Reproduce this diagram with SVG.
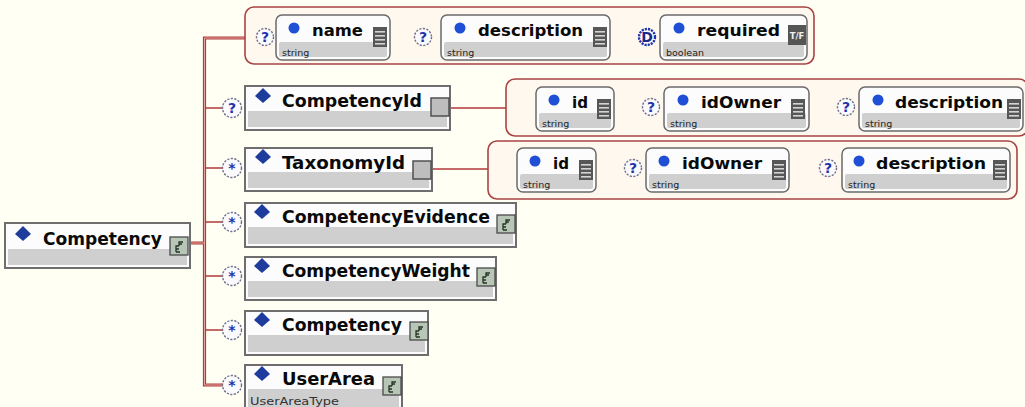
<svg xmlns="http://www.w3.org/2000/svg" xmlns:xlink="http://www.w3.org/1999/xlink" width="1025" height="407" viewBox="0 0 1025 407">
<style>
.conn{fill:none;stroke:#b23a3a;stroke-width:1.6}
.trunk{fill:none;stroke:#b23a3a;stroke-width:3.2}
.trunkin{fill:none;stroke:#e8b4ac;stroke-width:0.9}
.grp{fill:#fff8ef;stroke:#a84444;stroke-width:1.6}
.el{fill:#fcfcfc;stroke:#6e6e6e;stroke-width:2}
.band{fill:#cfcfcf}
.att{fill:#fcfcfc;stroke:#6a6a6a;stroke-width:1.5}
.ename{font-family:"DejaVu Sans",Verdana,sans-serif;font-weight:bold;font-size:17px;fill:#0a0a0a}
.aname{font-family:"DejaVu Sans",Verdana,sans-serif;font-weight:bold;font-size:16px;fill:#0a0a0a}
.type{font-family:"DejaVu Sans",sans-serif;font-size:9.5px;fill:#222}
.occ{fill:#fbfbff;stroke:#6f6f8a;stroke-width:1.4;stroke-dasharray:2.2 1.4}
.occt{font-family:"DejaVu Sans",sans-serif;font-weight:bold;font-size:14px;fill:#2233aa;text-anchor:middle}
.dia{fill:#1d3c9c}
.dot{fill:#1e4fd6}
.gsq{fill:#bdbdbd;stroke:#505050;stroke-width:1.5}
</style>
<defs>
<path id="dia" d="M0,-8 L8,0 L0,7 L-8,0 Z"/>
<g id="ctype"><rect x="0" y="0" width="18" height="18" fill="#b8c6b8" stroke="#4a4a4a" stroke-width="1.3"/><path d="M6,15 V9 H9 M6,12 H9 M6,15 H10 M9,9 V5 H13 M9,7 H12" stroke="#243424" stroke-width="1.3" fill="none"/></g>
<g id="sicon"><rect x="0" y="0" width="14" height="20" fill="#575757"/><rect x="2" y="4" width="10" height="1.6" fill="#d4d4d4"/><rect x="2" y="8" width="10" height="1.6" fill="#d4d4d4"/><rect x="2" y="12" width="10" height="1.6" fill="#d4d4d4"/><rect x="2" y="16" width="10" height="1.6" fill="#d4d4d4"/></g>
</defs>
<rect x="0" y="0" width="1025" height="407" fill="#fffff4"/>

<g id="connectors">
<path class="trunk" d="M190,243 H204.5 M245,38 H204.5 V385 H223"/>
<path class="trunkin" d="M190,243 H204.5 M245,38 H204.5 V385 H223"/>
<path class="conn" d="M206,108 H223 M206,168 H223 M206,222 H223 M206,276 H223 M206,330 H223"/>
<path class="conn" d="M450,108 H506 M432,169 H488"/>
</g>

<g id="node-root">
<rect class="el" x="5" y="223" width="185" height="45"/>
<rect class="band" x="8" y="249" width="179" height="16"/>
<use xlink:href="#dia" class="dia" x="23" y="234"/>
<text class="ename" x="43" y="245" textLength="119" lengthAdjust="spacingAndGlyphs">Competency</text>
<use xlink:href="#ctype" x="170" y="237"/>
</g>

<g id="attrs-Competency">
<rect class="grp" x="245" y="7" width="569" height="57" rx="9"/>
<g id="attr-name">
<circle class="occ" cx="265" cy="37" r="8.5"/><text class="occt" x="265" y="42">?</text>
<rect class="att" x="276" y="15" width="114" height="45" rx="6"/>
<rect class="band" x="279" y="42" width="108" height="15" rx="2"/>
<circle class="dot" cx="294" cy="28" r="5.5"/>
<text class="aname" x="312" y="36" textLength="51" lengthAdjust="spacingAndGlyphs">name</text>
<use xlink:href="#sicon" x="373" y="27"/>
<text class="type" x="282" y="56">string</text>
</g>
<g id="attr-description">
<circle class="occ" cx="423" cy="37" r="8.5"/><text class="occt" x="423" y="42">?</text>
<rect class="att" x="441" y="15" width="169" height="45" rx="6"/>
<rect class="band" x="444" y="42" width="163" height="15" rx="2"/>
<circle class="dot" cx="460" cy="28" r="5.5"/>
<text class="aname" x="478" y="36" textLength="105" lengthAdjust="spacingAndGlyphs">description</text>
<use xlink:href="#sicon" x="593" y="27"/>
<text class="type" x="447" y="56">string</text>
</g>
<g id="attr-required">
<circle cx="647" cy="37" r="8" fill="#ffffff" stroke="#2233aa" stroke-width="2.4" stroke-dasharray="2.2 1"/>
<text class="occt" x="647" y="42" style="fill:#1a2a8a">D</text>
<rect class="att" x="660" y="15" width="147" height="45" rx="6"/>
<rect class="band" x="663" y="42" width="141" height="15" rx="2"/>
<circle class="dot" cx="679" cy="28" r="5.5"/>
<text class="aname" x="697" y="36" textLength="83" lengthAdjust="spacingAndGlyphs">required</text>
<rect x="788" y="25" width="18" height="20" fill="#555555"/>
<text x="797" y="39" font-family="DejaVu Sans,sans-serif" font-size="8.5" font-weight="bold" fill="#f0f0f0" text-anchor="middle">T/F</text>
<text class="type" x="666" y="56">boolean</text>
</g>
</g>

<g id="node-CompetencyId">
<circle class="occ" cx="232" cy="108" r="9.5"/><text class="occt" x="232" y="113">?</text>
<rect class="el" x="245" y="86" width="205" height="44"/>
<rect class="band" x="248" y="111" width="199" height="16"/>
<use xlink:href="#dia" class="dia" x="263" y="96"/>
<text class="ename" x="282" y="107" textLength="140" lengthAdjust="spacingAndGlyphs">CompetencyId</text>
<rect class="gsq" x="431" y="98" width="18" height="18"/>
</g>

<g id="attrs-CompetencyId">
<rect class="grp" x="506" y="79" width="522" height="57" rx="9"/>
<g id="attr-cid-id">
<rect class="att" x="536" y="87" width="78" height="44" rx="6"/>
<rect class="band" x="539" y="113" width="72" height="15" rx="2"/>
<circle class="dot" cx="554" cy="100" r="5.5"/>
<text class="aname" x="572" y="108" textLength="16" lengthAdjust="spacingAndGlyphs">id</text>
<use xlink:href="#sicon" x="597" y="99"/>
<text class="type" x="542" y="127">string</text>
</g>
<g id="attr-cid-idOwner">
<circle class="occ" cx="651" cy="107" r="8.5"/><text class="occt" x="651" y="112">?</text>
<rect class="att" x="664" y="87" width="145" height="44" rx="6"/>
<rect class="band" x="667" y="113" width="139" height="15" rx="2"/>
<circle class="dot" cx="683" cy="100" r="5.5"/>
<text class="aname" x="701" y="108" textLength="80" lengthAdjust="spacingAndGlyphs">idOwner</text>
<use xlink:href="#sicon" x="791" y="99"/>
<text class="type" x="670" y="127">string</text>
</g>
<g id="attr-cid-description">
<circle class="occ" cx="846" cy="107" r="8.5"/><text class="occt" x="846" y="112">?</text>
<rect class="att" x="859" y="87" width="164" height="44" rx="6"/>
<rect class="band" x="862" y="113" width="158" height="15" rx="2"/>
<circle class="dot" cx="878" cy="100" r="5.5"/>
<text class="aname" x="895" y="108" textLength="108" lengthAdjust="spacingAndGlyphs">description</text>
<use xlink:href="#sicon" x="1007" y="99"/>
<text class="type" x="865" y="127">string</text>
</g>
</g>

<g id="node-TaxonomyId">
<circle class="occ" cx="232" cy="168" r="9.5"/><text class="occt" x="232" y="173">*</text>
<rect class="el" x="245" y="148" width="187" height="43"/>
<rect class="band" x="248" y="172" width="181" height="16"/>
<use xlink:href="#dia" class="dia" x="263" y="157"/>
<text class="ename" x="282" y="169" textLength="123" lengthAdjust="spacingAndGlyphs">TaxonomyId</text>
<rect class="gsq" x="413" y="161" width="18" height="18"/>
</g>

<g id="attrs-TaxonomyId">
<rect class="grp" x="488" y="141" width="529" height="58" rx="9"/>
<g id="attr-tid-id">
<rect class="att" x="517" y="148" width="79" height="44" rx="6"/>
<rect class="band" x="520" y="174" width="73" height="15" rx="2"/>
<circle class="dot" cx="535" cy="161" r="5.5"/>
<text class="aname" x="553" y="169" textLength="16" lengthAdjust="spacingAndGlyphs">id</text>
<use xlink:href="#sicon" x="579" y="160"/>
<text class="type" x="523" y="188">string</text>
</g>
<g id="attr-tid-idOwner">
<circle class="occ" cx="633" cy="168" r="8.5"/><text class="occt" x="633" y="173">?</text>
<rect class="att" x="646" y="148" width="143" height="44" rx="6"/>
<rect class="band" x="649" y="174" width="137" height="15" rx="2"/>
<circle class="dot" cx="664" cy="161" r="5.5"/>
<text class="aname" x="682" y="169" textLength="80" lengthAdjust="spacingAndGlyphs">idOwner</text>
<use xlink:href="#sicon" x="772" y="160"/>
<text class="type" x="652" y="188">string</text>
</g>
<g id="attr-tid-description">
<circle class="occ" cx="828" cy="168" r="8.5"/><text class="occt" x="828" y="173">?</text>
<rect class="att" x="842" y="148" width="168" height="44" rx="6"/>
<rect class="band" x="845" y="174" width="162" height="15" rx="2"/>
<circle class="dot" cx="859" cy="161" r="5.5"/>
<text class="aname" x="876" y="169" textLength="110" lengthAdjust="spacingAndGlyphs">description</text>
<use xlink:href="#sicon" x="993" y="160"/>
<text class="type" x="848" y="188">string</text>
</g>
</g>

<g id="node-CompetencyEvidence">
<circle class="occ" cx="232" cy="222" r="9.5"/><text class="occt" x="232" y="227">*</text>
<rect class="el" x="245" y="203" width="271" height="44"/>
<rect class="band" x="248" y="227" width="265" height="17"/>
<use xlink:href="#dia" class="dia" x="262" y="212"/>
<text class="ename" x="282" y="223" textLength="208" lengthAdjust="spacingAndGlyphs">CompetencyEvidence</text>
<use xlink:href="#ctype" x="497" y="215"/>
</g>

<g id="node-CompetencyWeight">
<circle class="occ" cx="232" cy="276" r="9.5"/><text class="occt" x="232" y="281">*</text>
<rect class="el" x="245" y="257" width="251" height="43"/>
<rect class="band" x="248" y="281" width="245" height="16"/>
<use xlink:href="#dia" class="dia" x="262" y="266"/>
<text class="ename" x="282" y="277" textLength="188" lengthAdjust="spacingAndGlyphs">CompetencyWeight</text>
<use xlink:href="#ctype" x="477" y="268"/>
</g>

<g id="node-Competency-child">
<circle class="occ" cx="232" cy="330" r="9.5"/><text class="occt" x="232" y="335">*</text>
<rect class="el" x="245" y="311" width="183" height="44"/>
<rect class="band" x="248" y="335" width="177" height="17"/>
<use xlink:href="#dia" class="dia" x="262" y="320"/>
<text class="ename" x="282" y="331" textLength="120" lengthAdjust="spacingAndGlyphs">Competency</text>
<use xlink:href="#ctype" x="410" y="322"/>
</g>

<g id="node-UserArea">
<circle class="occ" cx="232" cy="385" r="9.5"/><text class="occt" x="232" y="390">*</text>
<rect class="el" x="245" y="365" width="157" height="52"/>
<rect class="band" x="248" y="389" width="151" height="30"/>
<use xlink:href="#dia" class="dia" x="262" y="374"/>
<text class="ename" x="282" y="385" textLength="93" lengthAdjust="spacingAndGlyphs">UserArea</text>
<use xlink:href="#ctype" x="383" y="377"/>
<text x="250" y="405" font-family="DejaVu Sans,sans-serif" font-size="11" fill="#333" textLength="89" lengthAdjust="spacingAndGlyphs">UserAreaType</text>
</g>
</svg>
